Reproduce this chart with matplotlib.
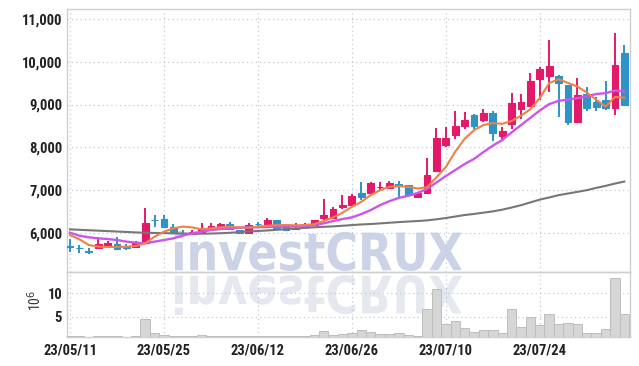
import numpy as np
import matplotlib
matplotlib.use('Agg')
import matplotlib.pyplot as plt
from matplotlib import font_manager
from matplotlib.textpath import TextPath
from matplotlib.patches import PathPatch
from matplotlib.transforms import Affine2D
from matplotlib.ticker import FuncFormatter

# x tick labels (trading-day index -> date)
tick_idx = [0, 10, 20, 30, 40, 50]
tick_labels = ['23/05/11', '23/05/25', '23/06/12', '23/06/26', '23/07/10', '23/07/24']

opens = [5690, 5650, 5570, 5640, 5700, 5745, 5670, 5680, 5760, 6305,
         6320, 6150, 6010, 5980, 6010, 6085, 6150, 6210, 6070, 6010,
         6215, 6185, 6300, 6160, 6085, 6150, 6185, 6340, 6340, 6610,
         6665, 6945, 6925, 7070, 7040, 7140, 7115, 6845, 6925, 7440,
         8045, 8295, 8490, 8745, 8630, 8800, 8255, 8550, 8900, 8975,
         9600, 9660, 9675, 9465, 8590, 9250, 9070, 9095, 8925, 10210]
closes = [5680, 5640, 5560, 5745, 5775, 5635, 5660, 5800, 6240, 6295,
          6150, 6030, 6000, 6030, 6085, 6165, 6210, 6085, 6010, 6185,
          6205, 6300, 6125, 6070, 6125, 6210, 6300, 6420, 6560, 6650,
          6860, 6845, 7170, 7085, 7170, 7095, 6885, 6925, 7350, 8215,
          8215, 8510, 8650, 8495, 8800, 8335, 8380, 9045, 9060, 9560,
          9830, 9905, 9500, 8590, 9230, 8925, 8940, 8925, 9930, 8995]
highs = [5860, 5720, 5640, 5900, 5820, 5900, 5735, 5820, 6575, 6420,
         6420, 6210, 6070, 6080, 6225, 6225, 6230, 6250, 6080, 6230,
         6260, 6350, 6300, 6170, 6225, 6240, 6310, 6805, 6600, 6885,
         6900, 7195, 7195, 7190, 7210, 7210, 7130, 6960, 7740, 8460,
         8470, 8860, 8820, 8780, 8900, 8860, 8480, 9275, 9250, 9730,
         9870, 10505, 9700, 9465, 9620, 9410, 9170, 9560, 10665, 10395]
lows = [5560, 5530, 5510, 5630, 5690, 5605, 5605, 5670, 5740, 6150,
        6140, 6020, 5960, 5960, 6000, 6060, 6140, 6060, 5990, 6000,
        6170, 6180, 6090, 6050, 6080, 6140, 6180, 6300, 6320, 6560,
        6640, 6760, 6900, 7000, 7030, 6810, 6860, 6830, 6900, 7420,
        8000, 8200, 8440, 8420, 8600, 8160, 8200, 8435, 8660, 8980,
        9100, 9300, 8710, 8530, 8590, 8845, 8860, 8880, 8745, 8995]

# trading volume, millions of shares
volumes = [0.9, 0.8, 0.7, 0.9, 0.8, 0.9, 0.7, 0.9, 4.4, 1.6,
           1.1, 0.9, 0.8, 0.9, 1.0, 0.9, 0.8, 0.9, 0.8, 0.9,
           0.8, 0.9, 0.9, 0.8, 0.8, 0.9, 1.0, 2.0, 1.1, 1.3,
           1.4, 2.1, 1.8, 1.3, 1.3, 1.5, 1.1, 0.9, 6.6, 10.9,
           3.4, 4.1, 2.5, 1.8, 2.1, 2.1, 1.4, 6.6, 2.8, 4.9,
           3.2, 5.5, 3.4, 3.6, 3.4, 1.6, 1.4, 2.3, 13.2, 5.5]

# moving averages as drawn on the chart
ma_short = [5953, 5853, 5720, 5682, 5675, 5675, 5680, 5698, 5760, 5914,
            6030, 6109, 6150, 6132, 6085, 6109, 6132, 6147, 6132, 6124,
            6147, 6170, 6186, 6186, 6180, 6186, 6209, 6279, 6365, 6473,
            6612, 6728, 6884, 7000, 7078, 7093, 7078, 7039, 7070, 7300,
            7540, 7900, 8200, 8400, 8520, 8565, 8550, 8615, 8740, 8890,
            9150, 9500, 9590, 9505, 9420, 9280, 9110, 8955, 9175, 9160]
ma_mid = [6008, 5937, 5900, 5876, 5860, 5837, 5798, 5775, 5760, 5798,
          5837, 5876, 5940, 5992, 6030, 6070, 6093, 6109, 6124, 6132,
          6135, 6140, 6147, 6150, 6155, 6163, 6186, 6225, 6279, 6326,
          6365, 6442, 6535, 6651, 6744, 6821, 6870, 6935, 7030, 7180,
          7330, 7470, 7610, 7730, 7890, 8040, 8170, 8350, 8520, 8690,
          8860, 9010, 9085, 9115, 9150, 9190, 9245, 9265, 9325, 9305]
ma_long = [6085, 6075, 6065, 6055, 6045, 6035, 6025, 6014, 6006, 6001,
           5998, 5992, 5988, 5985, 5985, 5988, 5995, 6005, 6020, 6035,
           6048, 6060, 6075, 6090, 6105, 6120, 6133, 6145, 6155, 6170,
           6185, 6200, 6210, 6225, 6240, 6255, 6268, 6280, 6295, 6320,
           6350, 6385, 6420, 6445, 6475, 6505, 6545, 6595, 6650, 6715,
           6780, 6830, 6884, 6922, 6961, 7000, 7054, 7101, 7155, 7202]


def pick_font():
    names = {f.name for f in font_manager.fontManager.ttflist}
    for n in ['Liberation Sans Narrow', 'Roboto Condensed', 'Open Sans Condensed']:
        if n in names:
            return n
    return 'Roboto'


W, H = 639, 366
RED = '#e3196a'
BLUE = '#2f93c6'
GRID = '#c5c8d8'
SPINE = '#cfcfcf'

label_font = pick_font()
plt.rcParams['font.family'] = [label_font, 'DejaVu Sans']

fig = plt.figure(figsize=(W / 100, H / 100), dpi=100, facecolor='white')
ax = fig.add_axes([67 / W, 1 - 272 / H, (630 - 67) / W, (272 - 9) / H])
axv = fig.add_axes([67 / W, 1 - 337 / H, (630 - 67) / W, (337 - 272) / H], sharex=ax)
for a in (ax, axv):
    a.set_facecolor('none')
    for s in a.spines.values():
        s.set_color(SPINE)
        s.set_linewidth(1.0)
    a.tick_params(length=0, labelsize=10.5, colors='#222222')
    a.grid(True, color=GRID, linestyle=(0, (1, 2.5)), linewidth=0.9)
    a.set_axisbelow(True)

x = np.arange(len(opens))
o = np.array(opens)
c = np.array(closes)
up = c >= o
col = np.where(up, RED, BLUE)

ax.vlines(x, lows, highs, colors=col, linewidth=1.4, zorder=3)
ax.bar(x, np.abs(c - o), bottom=np.minimum(o, c), width=0.72, color=col,
       edgecolor=col, linewidth=0.8, zorder=4)

ax.plot(x, ma_long, color='#777777', linewidth=1.5, zorder=5)
ax.plot(x, ma_mid, color='#cc55ee', linewidth=1.7, zorder=5)
ax.plot(x, ma_short, color='#ee8146', linewidth=1.5, zorder=6)

ax.set_ylim(5090, 11230)
ax.set_yticks([6000, 7000, 8000, 9000, 10000, 11000])
ax.yaxis.set_major_formatter(FuncFormatter(lambda v, p: f'{int(v):,}'))
ax.set_xlim(-0.32, 59.6)
ax.set_xticks(tick_idx)
ax.tick_params(axis='x', labelbottom=False)
for t in ax.get_yticklabels():
    t.set_fontweight('bold')

axv.bar(x, volumes, width=1.0, color='#d6d6d6', edgecolor='#bdbdbd',
        linewidth=0.7, zorder=3)
axv.set_ylim(0.64, 14.56)
axv.set_yticks([5, 10])
axv.set_xticks(tick_idx)
axv.set_xticklabels(tick_labels)
axv.tick_params(axis='x', pad=5)
for t in axv.get_yticklabels() + axv.get_xticklabels():
    t.set_fontweight('bold')
fig.text(35 / W, 1 - 300 / H, '10$^6$', rotation=90, ha='center', va='center',
         fontsize=10, color='#333333')

# watermark and its reflection, fitted to the pixel box it occupies
wm = TextPath((0, 0), 'investCRUX', size=50,
              prop=font_manager.FontProperties(family='DejaVu Sans', weight='bold'))
bb = wm.get_extents()
sx = (462 - 175) / W / bb.width
sy = (271 - 231) / H / bb.height
tr = Affine2D().translate(-bb.x0, -bb.y0).scale(sx, sy).translate(175 / W, 1 - 271 / H)
fig.patches.append(PathPatch(tr.transform_path(wm), transform=fig.transFigure,
                             facecolor='#ccd3e7', edgecolor='none', zorder=-1))
tr2 = Affine2D().translate(-bb.x0, -bb.y0).scale(sx, -sy).translate(175 / W, 1 - 275 / H)
fig.patches.append(PathPatch(tr2.transform_path(wm), transform=fig.transFigure,
                             facecolor='#e6e8f0', edgecolor='none', zorder=-1))

fig.savefig('out.png', dpi=100, facecolor='white')
